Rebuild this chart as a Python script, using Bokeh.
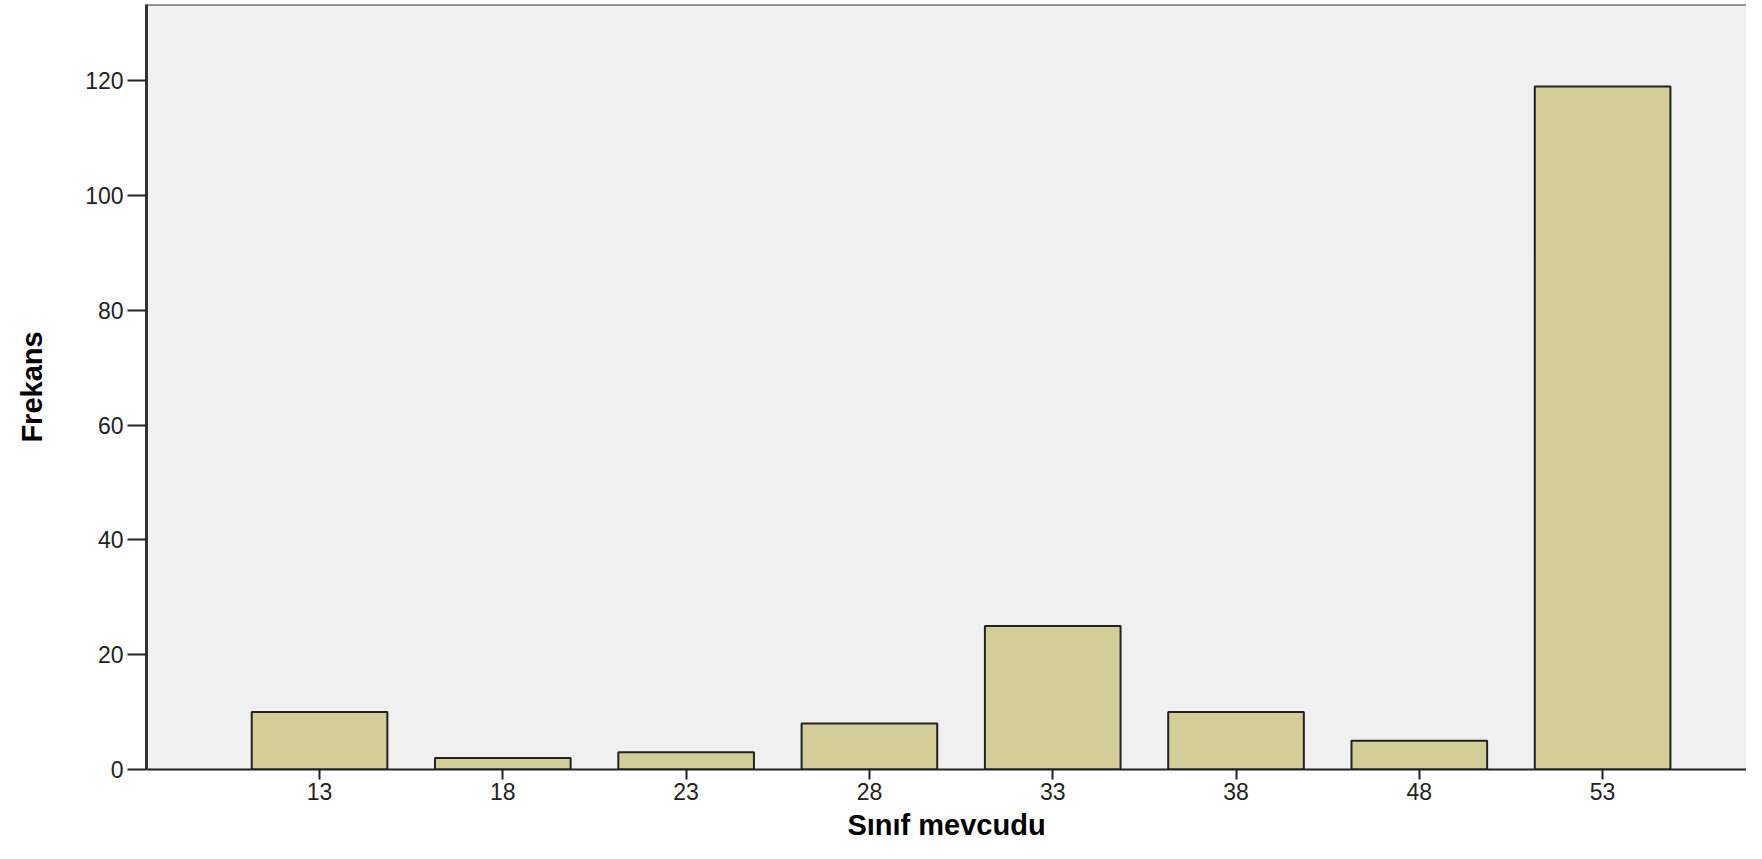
from bokeh.plotting import figure
from bokeh.models import FixedTicker, Range1d, Span, ColumnDataSource
from bokeh.embed import file_html
from bokeh.resources import INLINE

categories = ["13", "18", "23", "28", "33", "38", "48", "53"]
frequencies = [10, 2, 3, 8, 25, 10, 5, 119]
y_ticks = [0, 20, 40, 60, 80, 100, 120]

positions = list(range(len(categories)))
src = ColumnDataSource(dict(x=positions, top=frequencies))

Y_END = 133.3
p = figure(width=1746, height=843, output_backend="svg", toolbar_location=None,
           x_range=Range1d(-0.944, 7.785), y_range=Range1d(0, Y_END),
           min_border_left=146, min_border_right=0, min_border_top=4, min_border_bottom=70)

p.background_fill_color = "#F0F0F0"
p.border_fill_color = "white"
p.outline_line_color = None
p.grid.grid_line_color = None

p.vbar(x="x", top="top", width=0.74, bottom=0, source=src,
       fill_color="#D3CE98", line_color="#222222", line_width=2)

p.add_layout(Span(location=Y_END, dimension="width", line_color="#333333", line_width=2))

font = "Liberation Sans"

# x axis
p.xaxis.ticker = FixedTicker(ticks=positions)
p.xaxis.major_label_overrides = {i: c for i, c in enumerate(categories)}
p.xaxis.axis_label = "Sınıf mevcudu"
p.xaxis.axis_label_text_font = font
p.xaxis.axis_label_text_font_style = "bold"
p.xaxis.axis_label_text_font_size = "29px"
p.xaxis.axis_label_text_color = "black"
p.xaxis.axis_label_standoff = 6
p.xaxis.major_label_text_font = font
p.xaxis.major_label_text_font_size = "23px"
p.xaxis.major_label_text_color = "#222222"
p.xaxis.major_label_standoff = 3
p.xaxis.major_tick_out = 10
p.xaxis.major_tick_in = 0
p.xaxis.major_tick_line_width = 2
p.xaxis.major_tick_line_color = "#222222"
p.xaxis.minor_tick_line_color = None
p.xaxis.axis_line_color = "#222222"
p.xaxis.axis_line_width = 2

# y axis
p.yaxis.ticker = FixedTicker(ticks=y_ticks)
p.yaxis.axis_label = "Frekans"
p.yaxis.axis_label_text_font = font
p.yaxis.axis_label_text_font_style = "bold"
p.yaxis.axis_label_text_font_size = "29px"
p.yaxis.axis_label_text_color = "black"
p.yaxis.axis_label_standoff = 34
p.yaxis.major_label_text_font = font
p.yaxis.major_label_text_font_size = "23px"
p.yaxis.major_label_text_color = "#222222"
p.yaxis.major_label_standoff = 4
p.yaxis.major_tick_out = 19
p.yaxis.major_tick_in = 0
p.yaxis.major_tick_line_width = 2
p.yaxis.major_tick_line_color = "#222222"
p.yaxis.minor_tick_line_color = None
p.yaxis.axis_line_color = "#333333"
p.yaxis.axis_line_width = 3

open("out.html", "w").write(file_html(p, INLINE))
